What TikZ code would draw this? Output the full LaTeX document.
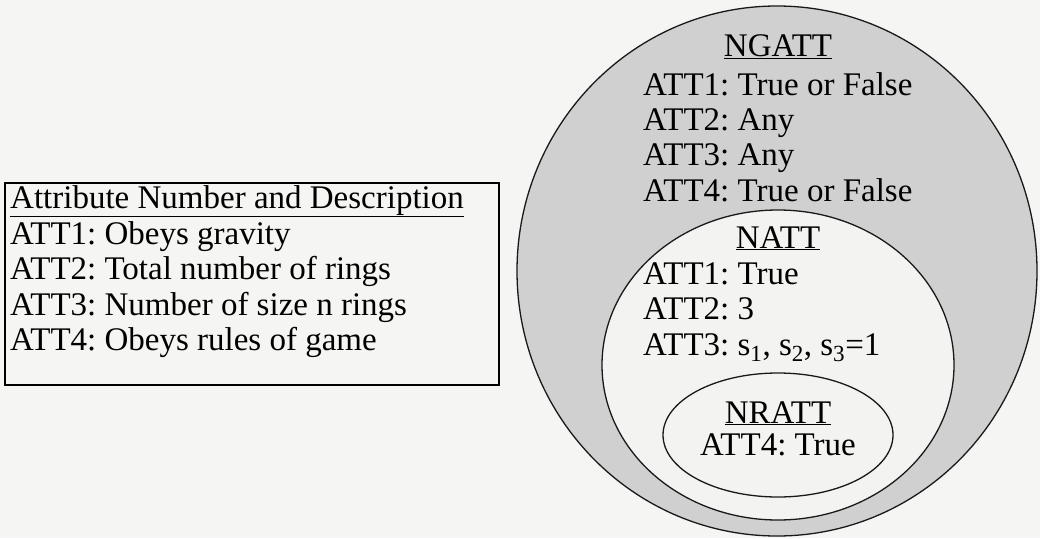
\documentclass[tikz,border=0pt]{standalone}
\usepackage{fontspec}
\setmainfont{Liberation Serif}
\definecolor{bg}{RGB}{245,245,243}
\definecolor{outerfill}{RGB}{208,208,208}
\definecolor{innerfill}{RGB}{243,243,241}
\begin{document}
\frenchspacing
\begin{tikzpicture}[x=1pt,y=-1pt,
  txt/.style={inner sep=0pt,font=\fontsize{33}{36}\selectfont},
  ring/.style={draw=black!90,line width=1.3pt}]
\useasboundingbox (0,0) rectangle (1040,538);
\clip (0,0) rectangle (1040,538);
\fill[bg] (0,0) rectangle (1040,538);
% legend box
\draw[line width=1.5pt] (5,183) rectangle (499,385);
\node[txt,anchor=base west] (l0) at (10,208) {\underline{Attribute Number and Description}};
\node[txt,anchor=base west] (l1) at (10,244) {ATT1: Obeys gravity};
\node[txt,anchor=base west] (l2) at (10,279) {ATT2: Total number of rings};
\node[txt,anchor=base west] (l3) at (10,315) {ATT3: Number of size n rings};
\node[txt,anchor=base west] (l4) at (10,350) {ATT4: Obeys rules of game};
% ellipses
\draw[ring,fill=outerfill] (777,271) ellipse [x radius=260,y radius=265];
\draw[ring,fill=innerfill] (778,365) ellipse [x radius=176,y radius=155];
\draw[ring,fill=innerfill] (778,435) ellipse [x radius=115,y radius=62];
% NGATT
\node[txt,anchor=base] (ng) at (778,56) {\underline{NGATT}};
\node[txt,anchor=base west] (ng1) at (643,95) {ATT1: True or False};
\node[txt,anchor=base west] (ng2) at (643,130) {ATT2: Any};
\node[txt,anchor=base west] (ng3) at (643,165) {ATT3: Any};
\node[txt,anchor=base west] (ng4) at (643,201) {ATT4: True or False};
% NATT
\node[txt,anchor=base] (na) at (778,248) {\underline{NATT}};
\node[txt,anchor=base west] (na1) at (643,284) {ATT1: True};
\node[txt,anchor=base west] (na2) at (643,319) {ATT2: 3};
\node[txt,anchor=base west] (na3) at (643,355) {ATT3: s\textsubscript{1}, s\textsubscript{2}, s\textsubscript{3}=1};
% NRATT
\node[txt,anchor=base] (nr) at (778,423) {\underline{NRATT}};
\node[txt,anchor=base] (nr1) at (778,455) {ATT4: True};
\end{tikzpicture}
\end{document}
